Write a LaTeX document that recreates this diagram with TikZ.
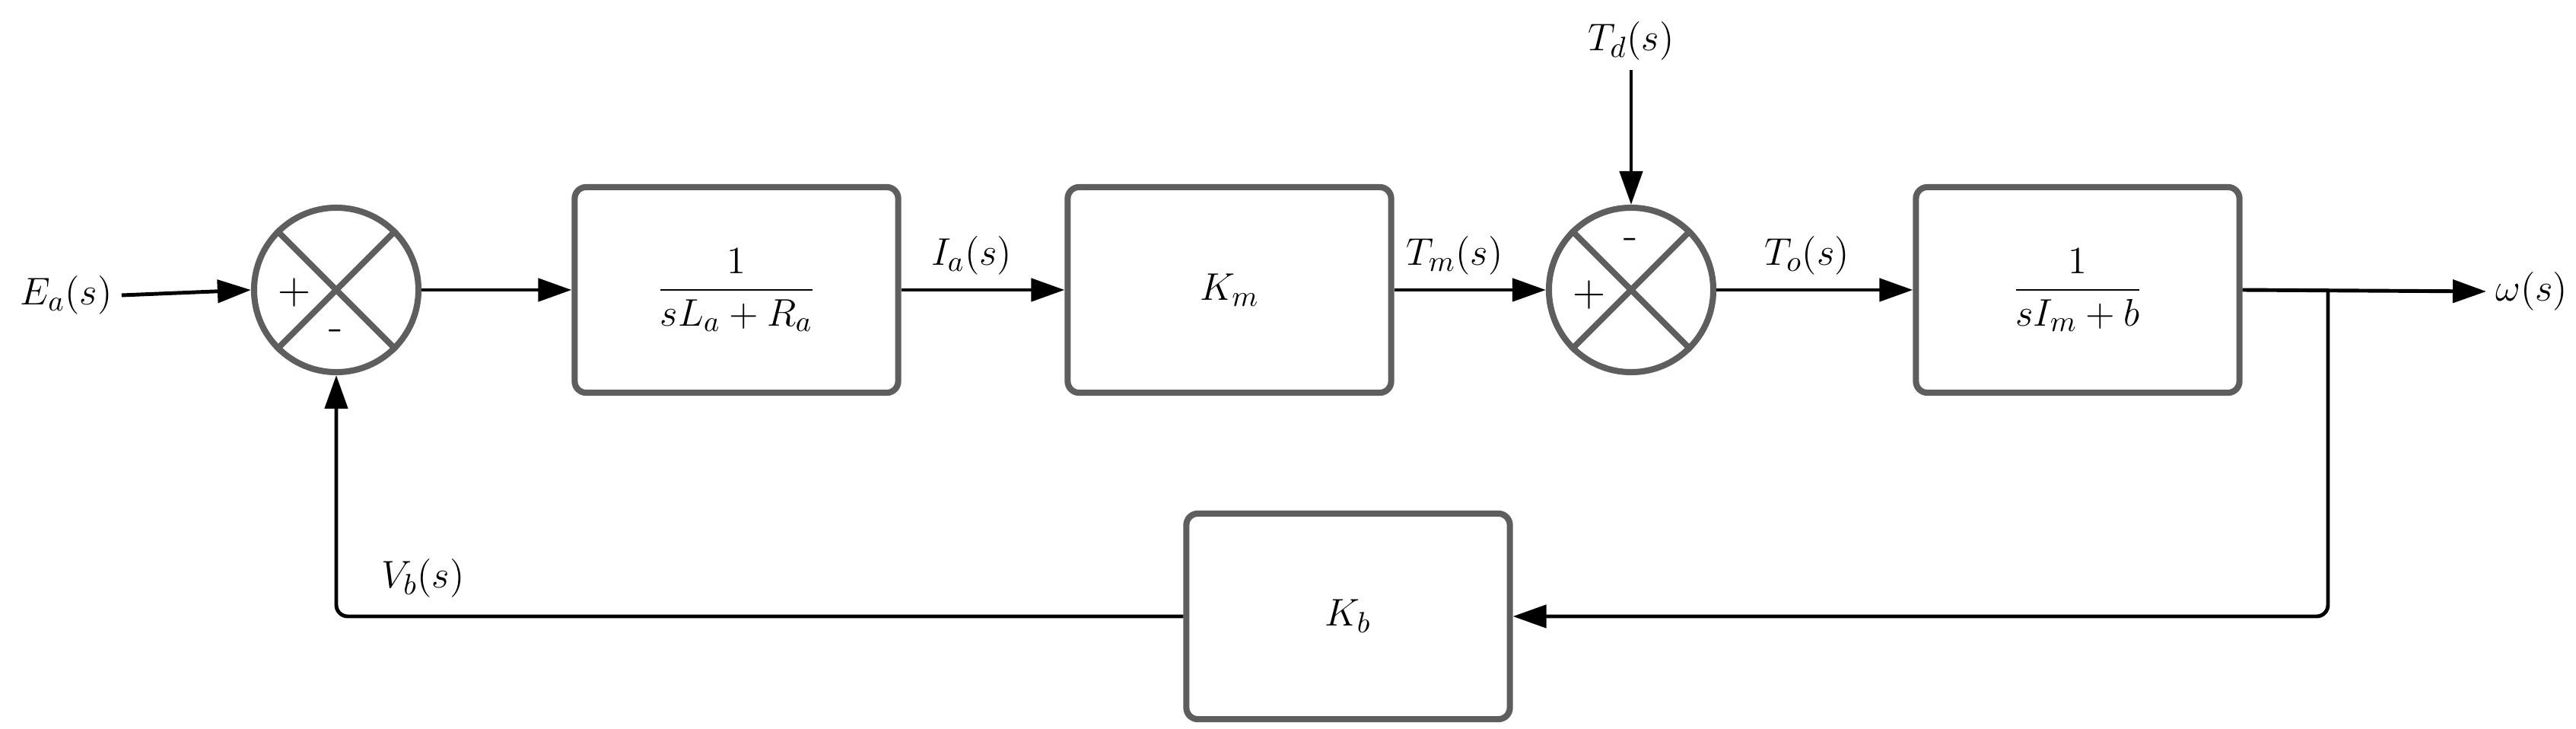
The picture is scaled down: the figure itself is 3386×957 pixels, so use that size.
\documentclass[tikz,border=0pt]{standalone}
\usepackage{amsmath}
\usetikzlibrary{arrows.meta}
\begin{document}
\begin{tikzpicture}[x=0.01cm,y=-0.01cm,
  font=\fontsize{15.5}{19}\selectfont,
  blk/.style={draw=black!63,line width=2.3pt,rounded corners=0.15cm,minimum width=4.25cm,minimum height=2.7cm,inner sep=0pt},
  sum/.style={draw=black!63,line width=2.3pt,circle,minimum size=2.16cm,inner sep=0pt},
  sig/.style={line width=1.4pt,-{Triangle[length=0.44cm,width=0.3cm]}},
  sgn/.style={font=\fontsize{17}{19}\selectfont}]
\useasboundingbox (0,0) rectangle (3386,957);
\node[sum] (s1) at (442,381) {};
\draw[draw=black!63,line width=2.3pt] (s1.45)--(s1.225) (s1.135)--(s1.315);
\node[sgn] (p1) at (387,385) {+};
\node[sgn] (m1) at (442,440) {-};
\node[blk] (b1) at (968,381) {$\dfrac{1}{sL_a+R_a}$};
\node[blk] (b2) at (1616,381) {$K_m$};
\node[sum] (s2) at (2144,381) {};
\draw[draw=black!63,line width=2.3pt] (s2.45)--(s2.225) (s2.135)--(s2.315);
\node[sgn] (p2) at (2089,388) {+};
\node[sgn] (m2) at (2144,320) {-};
\node[blk] (b3) at (2731,381) {$\dfrac{1}{sI_m+b}$};
\node[blk] (kb) at (1772,810) {$K_b$};
\node (ea) at (87,388) {$E_a(s)$};
\node (td) at (2144,54) {$T_d(s)$};
\node[anchor=west] (w) at (3268,383) {$\omega(s)$};
\node (ia) at (1277,336) {$I_a(s)$};
\node (tm) at (1912,336) {$T_m(s)$};
\node (to) at (2375,336) {$T_o(s)$};
\node (vb) at (556,760) {$V_b(s)$};
\coordinate (br) at (3060,381);
\draw[sig] (ea.east) -- (s1.west);
\draw[sig] (s1.east) -- (b1.west);
\draw[sig] (b1.east) -- (b2.west);
\draw[sig] (b2.east) -- (s2.west);
\draw[sig] (td.south) -- (s2.north);
\draw[sig] (s2.east) -- (b3.west);
\draw[sig] (b3.east) -- (w.west);
\draw[sig,rounded corners=0.15cm] (br) -- (br |- kb) -- (kb.east);
\draw[sig,rounded corners=0.15cm] (kb.west) -- (s1 |- kb) -- (s1.south);
\end{tikzpicture}
\end{document}
